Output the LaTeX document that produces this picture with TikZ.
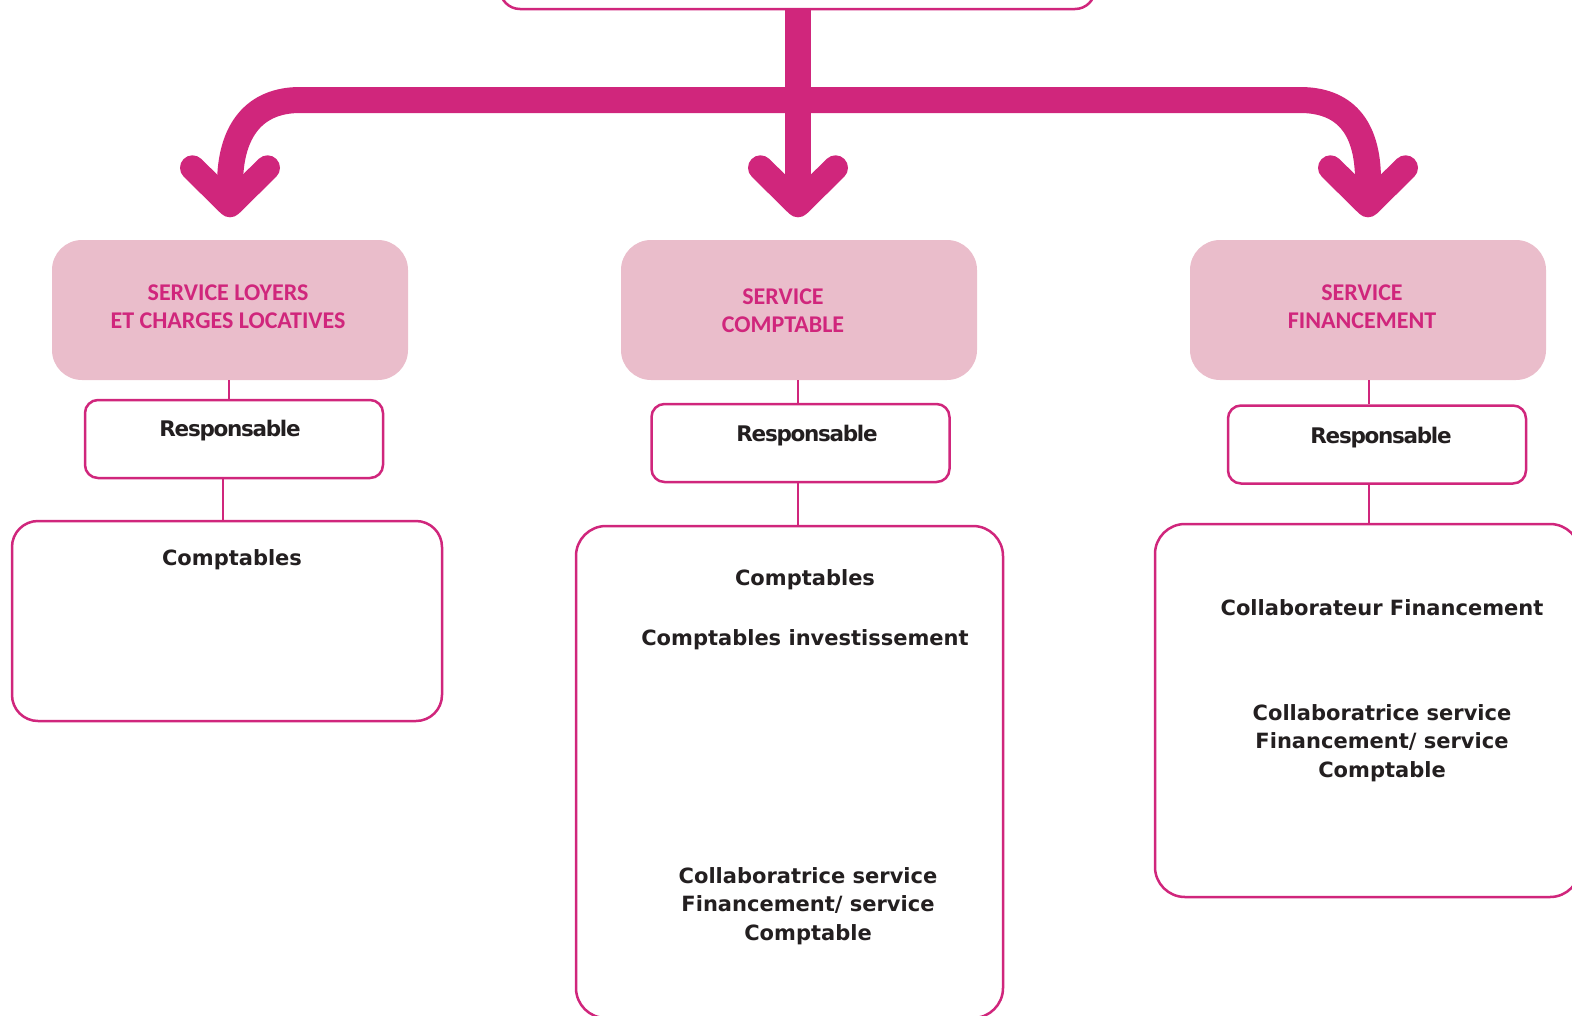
\documentclass[tikz,border=0pt]{standalone}
\usepackage{fontspec}
\usetikzlibrary{calc}
\setmainfont{DejaVu Sans}
\newfontfamily\hdfont{Carlito}
\newfontfamily\respfont{DejaVu Sans}[LetterSpace=-6]
\definecolor{mag}{HTML}{D0267C}
\definecolor{hdpink}{HTML}{EABDCB}
\definecolor{ink}{HTML}{231F20}
\begin{document}
\begin{tikzpicture}[x=1pt,y=-1pt,
  hdr/.style={fill=hdpink, draw=none, rounded corners=30pt, minimum width=356pt, minimum height=140pt, inner sep=0pt},
  respbox/.style={draw=mag, line width=2.5pt, fill=white, rounded corners=13pt, minimum width=298pt, minimum height=78pt, inner sep=0pt},
  bigbox/.style={draw=mag, line width=2.5pt, fill=white, rounded corners=26pt, inner sep=0pt},
  link/.style={draw=mag, line width=2.5pt},
  fat/.style={draw=mag, line width=26pt},
  chev/.style={draw=mag, line width=25pt, line cap=round, line join=round},
  hdtxt/.style={text=mag, align=center, font=\hdfont\bfseries\fontsize{24}{28}\selectfont},
  resptxt/.style={text=ink, font=\respfont\bfseries\fontsize{21.5}{26}\selectfont},
  bodytxt/.style={text=ink, align=center, font=\bfseries\fontsize{21}{28.5}\selectfont}
]
\useasboundingbox (0,0) rectangle (1572,1015);
\clip (0,0) rectangle (1572,1015);

% top box (only bottom visible)
\node[draw=mag, line width=2.5pt, rounded corners=20pt, minimum width=595pt, minimum height=80pt, inner sep=0pt] (top) at (797.5,-31) {};

% headers
\node[hdr] (h1) at (230,310) {};
\node[hdr] (h2) at (799,310) {};
\node[hdr] (h3) at (1368,310) {};
\node[hdtxt] (h1t) at (228,307) {SERVICE LOYERS\\ET CHARGES LOCATIVES};
\node[hdtxt] (h2t) at (783,311) {SERVICE\\COMPTABLE};
\node[hdtxt] (h3t) at (1362,307) {SERVICE\\FINANCEMENT};

% arrow tips
\coordinate (a1) at ($(h1.north)+(0,-35)$);
\coordinate (a2) at ($(h2.north)+(-1,-35)$);
\coordinate (a3) at ($(h3.north)+(0,-35)$);

% thick connectors
\draw[fat] (top.south -| a2) -- (a2);
\draw[fat] (a1) -- ++(0,-20) .. controls ++(0,-55) and (255,100) .. (300,100)
  -- (1300,100) .. controls (1343,100) and (1368,125) .. (1368,180) -- (a3);
\foreach \a in {a1,a2,a3}{
  \draw[chev] ($(\a)+(-37.5,-37)$) -- (\a) -- ($(\a)+(37.5,-37)$);
}

% responsable boxes
\node[respbox] (r1) at (234,439) {};
\node[respbox] (r2) at (800.5,443) {};
\node[respbox] (r3) at (1377,444.5) {};
\node[resptxt] (r1t) at (230,431) {Responsable};
\node[resptxt] (r2t) at (807,436) {Responsable};
\node[resptxt] (r3t) at (1381,438) {Responsable};

% bottom boxes
\node[bigbox, minimum width=430pt, minimum height=200pt] (b1) at (227,621) {};
\node[bigbox, rounded corners=30pt, minimum width=427pt, minimum height=492pt] (b2) at (789.5,772) {};
\node[bigbox, rounded corners=30pt, minimum width=425pt, minimum height=373pt] (b3) at (1367.5,710.5) {};

\node[bodytxt] (b1a) at (232,560) {Comptables};
\node[bodytxt] (b2a) at (805,580) {Comptables};
\node[bodytxt] (b2b) at (805,640) {Comptables investissement};
\node[bodytxt] (b2c) at (808,906) {Collaboratrice service\\Financement/ service\\Comptable};
\node[bodytxt] (b3a) at (1382,608) {Collaborateur Financement};
\node[bodytxt] (b3b) at (1382,743) {Collaboratrice service\\Financement/ service\\Comptable};

% thin links
\draw[link] (h1.south -| 229,0) -- (r1.north -| 229,0);
\draw[link] (r1.south -| 223,0) -- (b1.north -| 223,0);
\draw[link] (h2.south -| 798,0) -- (r2.north -| 798,0);
\draw[link] (r2.south -| 798,0) -- (b2.north -| 798,0);
\draw[link] (h3.south -| 1369,0) -- (r3.north -| 1369,0);
\draw[link] (r3.south -| 1369,0) -- (b3.north -| 1369,0);
\end{tikzpicture}
\end{document}
